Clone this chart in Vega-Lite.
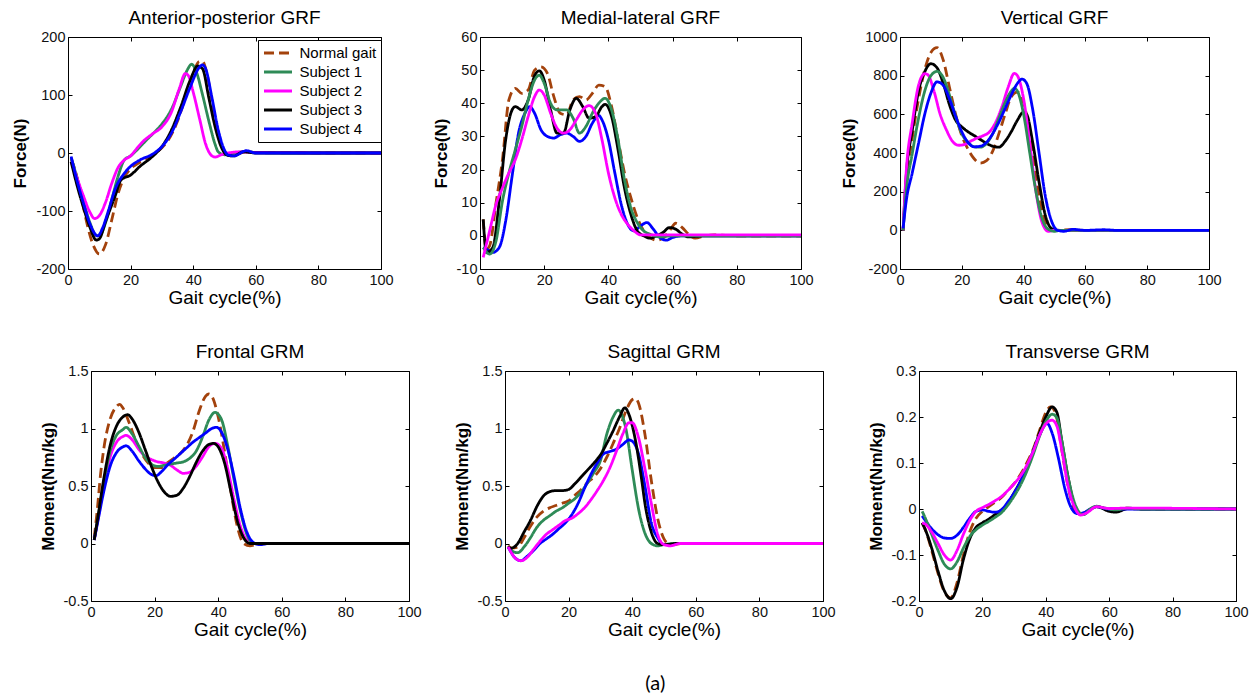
{
"$schema": "https://vega.github.io/schema/vega-lite/v6.json",
"background": "white",
"padding": {"left": 10, "top": 8, "right": 0, "bottom": 0},
"title": {"text": "(a)", "orient": "bottom", "anchor": "middle", "fontSize": 20, "font": "Lato", "fontWeight": "normal", "offset": 34, "dx": 26, "color": "black"},
"datasets": {
"ap": [
{"s":"N","x":1,"y":-10},{"s":"N","x":2,"y":-25},{"s":"N","x":3,"y":-45},{"s":"N","x":4,"y":-70},{"s":"N","x":5,"y":-95},{"s":"N","x":6,"y":-120},{"s":"N","x":8,"y":-158},{"s":"N","x":10,"y":-174},{"s":"N","x":12,"y":-158},{"s":"N","x":14,"y":-115},{"s":"N","x":16,"y":-70},{"s":"N","x":18,"y":-42},{"s":"N","x":20,"y":-27},{"s":"N","x":22,"y":-19},{"s":"N","x":25,"y":-10},{"s":"N","x":28,"y":0},{"s":"N","x":30,"y":9},{"s":"N","x":32,"y":22},{"s":"N","x":35,"y":55},{"s":"N","x":38,"y":105},{"s":"N","x":40,"y":138},{"s":"N","x":42,"y":158},{"s":"N","x":43,"y":158},{"s":"N","x":44,"y":145},{"s":"N","x":46,"y":90},{"s":"N","x":48,"y":32},{"s":"N","x":50,"y":3},{"s":"N","x":52,"y":-5},{"s":"N","x":54,"y":-2},{"s":"N","x":57,"y":2},{"s":"N","x":60,"y":1},{"s":"N","x":70,"y":1},{"s":"N","x":80,"y":0},{"s":"N","x":100,"y":0},
{"s":"S1","x":1,"y":-8},{"s":"S1","x":3,"y":-45},{"s":"S1","x":5,"y":-85},{"s":"S1","x":7,"y":-120},{"s":"S1","x":9,"y":-142},{"s":"S1","x":10,"y":-143},{"s":"S1","x":12,"y":-120},{"s":"S1","x":14,"y":-80},{"s":"S1","x":16,"y":-40},{"s":"S1","x":18,"y":-12},{"s":"S1","x":20,"y":-5},{"s":"S1","x":22,"y":5},{"s":"S1","x":25,"y":22},{"s":"S1","x":28,"y":38},{"s":"S1","x":30,"y":50},{"s":"S1","x":33,"y":75},{"s":"S1","x":36,"y":115},{"s":"S1","x":38,"y":142},{"s":"S1","x":39.5,"y":153},{"s":"S1","x":41,"y":140},{"s":"S1","x":43,"y":100},{"s":"S1","x":45,"y":55},{"s":"S1","x":47,"y":15},{"s":"S1","x":48,"y":2},{"s":"S1","x":50,"y":-3},{"s":"S1","x":53,"y":0},{"s":"S1","x":56,"y":2},{"s":"S1","x":60,"y":1},{"s":"S1","x":70,"y":0},{"s":"S1","x":100,"y":0},
{"s":"S2","x":1,"y":-15},{"s":"S2","x":3,"y":-45},{"s":"S2","x":5,"y":-75},{"s":"S2","x":7,"y":-102},{"s":"S2","x":8.5,"y":-113},{"s":"S2","x":10,"y":-108},{"s":"S2","x":12,"y":-85},{"s":"S2","x":14,"y":-52},{"s":"S2","x":16,"y":-25},{"s":"S2","x":18,"y":-12},{"s":"S2","x":20,"y":-5},{"s":"S2","x":22,"y":8},{"s":"S2","x":24,"y":20},{"s":"S2","x":27,"y":33},{"s":"S2","x":30,"y":45},{"s":"S2","x":33,"y":70},{"s":"S2","x":35.5,"y":110},{"s":"S2","x":37.5,"y":137},{"s":"S2","x":38.5,"y":133},{"s":"S2","x":40,"y":105},{"s":"S2","x":42,"y":60},{"s":"S2","x":44,"y":15},{"s":"S2","x":46,"y":-5},{"s":"S2","x":47,"y":-7},{"s":"S2","x":49,"y":-3},{"s":"S2","x":51,"y":0},{"s":"S2","x":55,"y":2},{"s":"S2","x":60,"y":1},{"s":"S2","x":100,"y":0},
{"s":"S3","x":1,"y":-15},{"s":"S3","x":3,"y":-58},{"s":"S3","x":5,"y":-95},{"s":"S3","x":7,"y":-128},{"s":"S3","x":9,"y":-150},{"s":"S3","x":10,"y":-148},{"s":"S3","x":12,"y":-118},{"s":"S3","x":15,"y":-75},{"s":"S3","x":17,"y":-46},{"s":"S3","x":20,"y":-38},{"s":"S3","x":23,"y":-23},{"s":"S3","x":27,"y":-6},{"s":"S3","x":30,"y":11},{"s":"S3","x":33,"y":39},{"s":"S3","x":36,"y":79},{"s":"S3","x":39,"y":125},{"s":"S3","x":41.5,"y":150},{"s":"S3","x":43,"y":145},{"s":"S3","x":45,"y":95},{"s":"S3","x":47,"y":45},{"s":"S3","x":49,"y":10},{"s":"S3","x":51,"y":-4},{"s":"S3","x":53,"y":-5},{"s":"S3","x":56,"y":2},{"s":"S3","x":60,"y":0},{"s":"S3","x":100,"y":0},
{"s":"S4","x":1,"y":-6},{"s":"S4","x":3,"y":-50},{"s":"S4","x":5,"y":-88},{"s":"S4","x":7,"y":-122},{"s":"S4","x":9.5,"y":-143},{"s":"S4","x":11,"y":-130},{"s":"S4","x":13,"y":-98},{"s":"S4","x":15,"y":-63},{"s":"S4","x":18,"y":-35},{"s":"S4","x":20,"y":-23},{"s":"S4","x":23,"y":-12},{"s":"S4","x":27,"y":-2},{"s":"S4","x":30,"y":11},{"s":"S4","x":33,"y":34},{"s":"S4","x":36,"y":71},{"s":"S4","x":39,"y":113},{"s":"S4","x":42,"y":148},{"s":"S4","x":43,"y":152},{"s":"S4","x":44,"y":145},{"s":"S4","x":46,"y":95},{"s":"S4","x":48,"y":40},{"s":"S4","x":50,"y":5},{"s":"S4","x":51,"y":-3},{"s":"S4","x":53,"y":-5},{"s":"S4","x":57,"y":4},{"s":"S4","x":60,"y":0},{"s":"S4","x":100,"y":0}
],
"ml": [
{"s":"N","x":1,"y":5},{"s":"N","x":2,"y":-4},{"s":"N","x":3,"y":-3},{"s":"N","x":5,"y":10},{"s":"N","x":7,"y":23},{"s":"N","x":9,"y":41},{"s":"N","x":11,"y":44.5},{"s":"N","x":13,"y":43},{"s":"N","x":15,"y":44},{"s":"N","x":17,"y":50},{"s":"N","x":19,"y":51},{"s":"N","x":21,"y":49},{"s":"N","x":23,"y":42},{"s":"N","x":25,"y":37},{"s":"N","x":27,"y":36.5},{"s":"N","x":29,"y":41},{"s":"N","x":31,"y":42},{"s":"N","x":33,"y":41},{"s":"N","x":35,"y":43},{"s":"N","x":37,"y":45.5},{"s":"N","x":39,"y":45},{"s":"N","x":41,"y":39},{"s":"N","x":43,"y":29},{"s":"N","x":45,"y":19},{"s":"N","x":47,"y":11.5},{"s":"N","x":49,"y":5.5},{"s":"N","x":51,"y":1.5},{"s":"N","x":53,"y":-0.5},{"s":"N","x":55,"y":-1.3},{"s":"N","x":57,"y":-0.7},{"s":"N","x":59,"y":1.5},{"s":"N","x":61,"y":3.8},{"s":"N","x":63,"y":2.5},{"s":"N","x":65,"y":0.5},{"s":"N","x":67,"y":-0.7},{"s":"N","x":70,"y":0},{"s":"N","x":73,"y":0.3},{"s":"N","x":80,"y":0},{"s":"N","x":100,"y":0},
{"s":"S4","x":1,"y":-3.5},{"s":"S4","x":2,"y":-4},{"s":"S4","x":4,"y":-5},{"s":"S4","x":6,"y":-3.5},{"s":"S4","x":8,"y":4.5},{"s":"S4","x":10,"y":18},{"s":"S4","x":12,"y":31},{"s":"S4","x":14,"y":37},{"s":"S4","x":15.5,"y":39},{"s":"S4","x":17,"y":37},{"s":"S4","x":19,"y":32},{"s":"S4","x":21,"y":30},{"s":"S4","x":23,"y":29.5},{"s":"S4","x":25,"y":30.5},{"s":"S4","x":27,"y":31},{"s":"S4","x":29,"y":30},{"s":"S4","x":31,"y":28.5},{"s":"S4","x":33,"y":30},{"s":"S4","x":35,"y":34},{"s":"S4","x":37,"y":36.3},{"s":"S4","x":38,"y":35},{"s":"S4","x":40,"y":29},{"s":"S4","x":42,"y":19},{"s":"S4","x":44,"y":9.5},{"s":"S4","x":46,"y":3.5},{"s":"S4","x":48,"y":1.5},{"s":"S4","x":50,"y":3},{"s":"S4","x":52,"y":4},{"s":"S4","x":54,"y":2},{"s":"S4","x":56,"y":-0.5},{"s":"S4","x":58,"y":-1.3},{"s":"S4","x":60,"y":-0.5},{"s":"S4","x":63,"y":0},{"s":"S4","x":100,"y":0},
{"s":"S3","x":1,"y":5},{"s":"S3","x":2,"y":-5},{"s":"S3","x":4,"y":-3.5},{"s":"S3","x":6,"y":10.5},{"s":"S3","x":8,"y":29},{"s":"S3","x":10,"y":38},{"s":"S3","x":11,"y":39},{"s":"S3","x":13,"y":38},{"s":"S3","x":15,"y":41},{"s":"S3","x":17,"y":48.3},{"s":"S3","x":18.5,"y":49.8},{"s":"S3","x":20,"y":47},{"s":"S3","x":22,"y":38},{"s":"S3","x":24,"y":31},{"s":"S3","x":26,"y":31},{"s":"S3","x":28,"y":38},{"s":"S3","x":30,"y":41.5},{"s":"S3","x":32,"y":39},{"s":"S3","x":34,"y":35.5},{"s":"S3","x":36,"y":36},{"s":"S3","x":38,"y":39},{"s":"S3","x":39,"y":39.7},{"s":"S3","x":41,"y":36},{"s":"S3","x":43,"y":26},{"s":"S3","x":45,"y":14.5},{"s":"S3","x":47,"y":6.5},{"s":"S3","x":49,"y":1.5},{"s":"S3","x":51,"y":0},{"s":"S3","x":53,"y":-0.7},{"s":"S3","x":55,"y":0},{"s":"S3","x":57,"y":1},{"s":"S3","x":59,"y":2.5},{"s":"S3","x":61,"y":2},{"s":"S3","x":63,"y":0.5},{"s":"S3","x":65,"y":-0.3},{"s":"S3","x":70,"y":0},{"s":"S3","x":100,"y":0},
{"s":"S1","x":1,"y":-3.5},{"s":"S1","x":3,"y":-5.5},{"s":"S1","x":5,"y":-1.5},{"s":"S1","x":7,"y":10.5},{"s":"S1","x":9,"y":19},{"s":"S1","x":11,"y":26},{"s":"S1","x":13,"y":33},{"s":"S1","x":15,"y":41},{"s":"S1","x":17,"y":47},{"s":"S1","x":18.5,"y":48.5},{"s":"S1","x":20,"y":46},{"s":"S1","x":22,"y":40},{"s":"S1","x":24,"y":38},{"s":"S1","x":27,"y":38},{"s":"S1","x":29,"y":35.5},{"s":"S1","x":31,"y":31},{"s":"S1","x":33,"y":33},{"s":"S1","x":35,"y":37},{"s":"S1","x":37,"y":40},{"s":"S1","x":39,"y":41.5},{"s":"S1","x":41,"y":38},{"s":"S1","x":43,"y":29},{"s":"S1","x":45,"y":17},{"s":"S1","x":47,"y":8.5},{"s":"S1","x":49,"y":4},{"s":"S1","x":51,"y":1.5},{"s":"S1","x":53,"y":0.5},{"s":"S1","x":56,"y":-0.3},{"s":"S1","x":60,"y":0},{"s":"S1","x":100,"y":0},
{"s":"S2","x":1,"y":-6.5},{"s":"S2","x":3,"y":1.5},{"s":"S2","x":5,"y":9.5},{"s":"S2","x":7,"y":14.5},{"s":"S2","x":9,"y":19},{"s":"S2","x":11,"y":23},{"s":"S2","x":13,"y":29},{"s":"S2","x":15,"y":36},{"s":"S2","x":17,"y":42},{"s":"S2","x":18.5,"y":44},{"s":"S2","x":20,"y":42.5},{"s":"S2","x":22,"y":37},{"s":"S2","x":24,"y":32.5},{"s":"S2","x":26,"y":31},{"s":"S2","x":28,"y":32},{"s":"S2","x":30,"y":35},{"s":"S2","x":32,"y":38},{"s":"S2","x":34,"y":39.3},{"s":"S2","x":36,"y":37},{"s":"S2","x":38,"y":29},{"s":"S2","x":40,"y":19},{"s":"S2","x":42,"y":11.5},{"s":"S2","x":44,"y":6.5},{"s":"S2","x":46,"y":3.5},{"s":"S2","x":48,"y":1.5},{"s":"S2","x":50,"y":0.3},{"s":"S2","x":52,"y":0.3},{"s":"S2","x":100,"y":0.3}
],
"vg": [
{"s":"N","x":1,"y":0},{"s":"N","x":2,"y":230},{"s":"N","x":4,"y":480},{"s":"N","x":6,"y":680},{"s":"N","x":8,"y":830},{"s":"N","x":10,"y":920},{"s":"N","x":12,"y":945},{"s":"N","x":14,"y":880},{"s":"N","x":16,"y":740},{"s":"N","x":18,"y":600},{"s":"N","x":20,"y":490},{"s":"N","x":22,"y":420},{"s":"N","x":24,"y":370},{"s":"N","x":26,"y":348},{"s":"N","x":28,"y":360},{"s":"N","x":30,"y":410},{"s":"N","x":32,"y":500},{"s":"N","x":34,"y":600},{"s":"N","x":36,"y":690},{"s":"N","x":38,"y":715},{"s":"N","x":39,"y":700},{"s":"N","x":40,"y":660},{"s":"N","x":42,"y":500},{"s":"N","x":44,"y":270},{"s":"N","x":46,"y":100},{"s":"N","x":48,"y":20},{"s":"N","x":50,"y":0},{"s":"N","x":55,"y":3},{"s":"N","x":60,"y":0},{"s":"N","x":100,"y":0},
{"s":"S3","x":1,"y":0},{"s":"S3","x":2,"y":280},{"s":"S3","x":4,"y":520},{"s":"S3","x":6,"y":720},{"s":"S3","x":8,"y":820},{"s":"S3","x":10,"y":862},{"s":"S3","x":12,"y":840},{"s":"S3","x":14,"y":760},{"s":"S3","x":16,"y":650},{"s":"S3","x":18,"y":570},{"s":"S3","x":20,"y":535},{"s":"S3","x":22,"y":510},{"s":"S3","x":24,"y":490},{"s":"S3","x":26,"y":470},{"s":"S3","x":28,"y":450},{"s":"S3","x":30,"y":435},{"s":"S3","x":32,"y":430},{"s":"S3","x":34,"y":460},{"s":"S3","x":36,"y":510},{"s":"S3","x":38,"y":570},{"s":"S3","x":40,"y":612},{"s":"S3","x":41,"y":600},{"s":"S3","x":43,"y":450},{"s":"S3","x":45,"y":250},{"s":"S3","x":47,"y":80},{"s":"S3","x":49,"y":10},{"s":"S3","x":51,"y":0},{"s":"S3","x":100,"y":0},
{"s":"S2","x":1,"y":0},{"s":"S2","x":2,"y":300},{"s":"S2","x":4,"y":560},{"s":"S2","x":6,"y":750},{"s":"S2","x":8,"y":810},{"s":"S2","x":9,"y":805},{"s":"S2","x":11,"y":720},{"s":"S2","x":13,"y":600},{"s":"S2","x":15,"y":520},{"s":"S2","x":17,"y":460},{"s":"S2","x":19,"y":440},{"s":"S2","x":21,"y":445},{"s":"S2","x":23,"y":462},{"s":"S2","x":25,"y":478},{"s":"S2","x":27,"y":490},{"s":"S2","x":29,"y":510},{"s":"S2","x":31,"y":560},{"s":"S2","x":33,"y":640},{"s":"S2","x":35,"y":740},{"s":"S2","x":37,"y":812},{"s":"S2","x":38,"y":800},{"s":"S2","x":40,"y":680},{"s":"S2","x":42,"y":450},{"s":"S2","x":44,"y":200},{"s":"S2","x":46,"y":40},{"s":"S2","x":48,"y":-5},{"s":"S2","x":50,"y":0},{"s":"S2","x":100,"y":0},
{"s":"S1","x":1,"y":0},{"s":"S1","x":2,"y":200},{"s":"S1","x":4,"y":400},{"s":"S1","x":6,"y":580},{"s":"S1","x":8,"y":720},{"s":"S1","x":10,"y":800},{"s":"S1","x":12,"y":822},{"s":"S1","x":14,"y":790},{"s":"S1","x":16,"y":700},{"s":"S1","x":18,"y":590},{"s":"S1","x":20,"y":500},{"s":"S1","x":22,"y":455},{"s":"S1","x":24,"y":432},{"s":"S1","x":26,"y":430},{"s":"S1","x":28,"y":450},{"s":"S1","x":30,"y":500},{"s":"S1","x":32,"y":580},{"s":"S1","x":34,"y":660},{"s":"S1","x":36,"y":720},{"s":"S1","x":37,"y":735},{"s":"S1","x":38,"y":720},{"s":"S1","x":40,"y":600},{"s":"S1","x":42,"y":400},{"s":"S1","x":44,"y":200},{"s":"S1","x":46,"y":60},{"s":"S1","x":48,"y":5},{"s":"S1","x":50,"y":-5},{"s":"S1","x":52,"y":0},{"s":"S1","x":100,"y":0},
{"s":"S4","x":1,"y":10},{"s":"S4","x":2,"y":150},{"s":"S4","x":4,"y":300},{"s":"S4","x":6,"y":450},{"s":"S4","x":8,"y":600},{"s":"S4","x":10,"y":710},{"s":"S4","x":12,"y":768},{"s":"S4","x":14,"y":750},{"s":"S4","x":16,"y":680},{"s":"S4","x":18,"y":590},{"s":"S4","x":20,"y":510},{"s":"S4","x":22,"y":455},{"s":"S4","x":24,"y":432},{"s":"S4","x":26,"y":435},{"s":"S4","x":28,"y":455},{"s":"S4","x":30,"y":500},{"s":"S4","x":32,"y":560},{"s":"S4","x":34,"y":630},{"s":"S4","x":36,"y":700},{"s":"S4","x":38,"y":760},{"s":"S4","x":39.5,"y":782},{"s":"S4","x":41,"y":760},{"s":"S4","x":43,"y":620},{"s":"S4","x":45,"y":400},{"s":"S4","x":47,"y":180},{"s":"S4","x":49,"y":50},{"s":"S4","x":51,"y":0},{"s":"S4","x":53,"y":-5},{"s":"S4","x":56,"y":5},{"s":"S4","x":60,"y":0},{"s":"S4","x":66,"y":3},{"s":"S4","x":70,"y":0},{"s":"S4","x":100,"y":0}
],
"fr": [
{"s":"N","x":1,"y":0.05},{"s":"N","x":2,"y":0.3},{"s":"N","x":3,"y":0.6},{"s":"N","x":4,"y":0.82},{"s":"N","x":6,"y":1.08},{"s":"N","x":8,"y":1.19},{"s":"N","x":9,"y":1.21},{"s":"N","x":10,"y":1.18},{"s":"N","x":12,"y":1.05},{"s":"N","x":14,"y":0.9},{"s":"N","x":16,"y":0.78},{"s":"N","x":18,"y":0.7},{"s":"N","x":20,"y":0.66},{"s":"N","x":22,"y":0.66},{"s":"N","x":24,"y":0.7},{"s":"N","x":26,"y":0.74},{"s":"N","x":28,"y":0.78},{"s":"N","x":30,"y":0.85},{"s":"N","x":32,"y":0.97},{"s":"N","x":34,"y":1.15},{"s":"N","x":36,"y":1.28},{"s":"N","x":37,"y":1.3},{"s":"N","x":38,"y":1.28},{"s":"N","x":40,"y":1.1},{"s":"N","x":42,"y":0.8},{"s":"N","x":44,"y":0.45},{"s":"N","x":46,"y":0.15},{"s":"N","x":48,"y":0},{"s":"N","x":50,"y":-0.02},{"s":"N","x":52,"y":-0.01},{"s":"N","x":55,"y":0},{"s":"N","x":100,"y":0},
{"s":"S2","x":1,"y":0.03},{"s":"S2","x":2,"y":0.18},{"s":"S2","x":4,"y":0.5},{"s":"S2","x":6,"y":0.75},{"s":"S2","x":8,"y":0.88},{"s":"S2","x":10,"y":0.93},{"s":"S2","x":11,"y":0.94},{"s":"S2","x":13,"y":0.9},{"s":"S2","x":15,"y":0.82},{"s":"S2","x":17,"y":0.76},{"s":"S2","x":19,"y":0.73},{"s":"S2","x":21,"y":0.71},{"s":"S2","x":23,"y":0.7},{"s":"S2","x":25,"y":0.68},{"s":"S2","x":27,"y":0.64},{"s":"S2","x":29,"y":0.61},{"s":"S2","x":31,"y":0.62},{"s":"S2","x":33,"y":0.67},{"s":"S2","x":35,"y":0.75},{"s":"S2","x":37,"y":0.84},{"s":"S2","x":39,"y":0.87},{"s":"S2","x":41,"y":0.83},{"s":"S2","x":43,"y":0.65},{"s":"S2","x":45,"y":0.38},{"s":"S2","x":47,"y":0.15},{"s":"S2","x":49,"y":0.03},{"s":"S2","x":51,"y":0},{"s":"S2","x":100,"y":0},
{"s":"S1","x":1,"y":0.03},{"s":"S1","x":2,"y":0.19},{"s":"S1","x":4,"y":0.53},{"s":"S1","x":6,"y":0.8},{"s":"S1","x":8,"y":0.94},{"s":"S1","x":10,"y":0.99},{"s":"S1","x":11,"y":1.01},{"s":"S1","x":13,"y":0.95},{"s":"S1","x":15,"y":0.85},{"s":"S1","x":17,"y":0.75},{"s":"S1","x":19,"y":0.69},{"s":"S1","x":21,"y":0.67},{"s":"S1","x":23,"y":0.68},{"s":"S1","x":25,"y":0.69},{"s":"S1","x":27,"y":0.7},{"s":"S1","x":29,"y":0.71},{"s":"S1","x":31,"y":0.74},{"s":"S1","x":33,"y":0.8},{"s":"S1","x":35,"y":0.92},{"s":"S1","x":37,"y":1.07},{"s":"S1","x":39,"y":1.14},{"s":"S1","x":41,"y":1.08},{"s":"S1","x":43,"y":0.85},{"s":"S1","x":45,"y":0.55},{"s":"S1","x":47,"y":0.28},{"s":"S1","x":49,"y":0.08},{"s":"S1","x":51,"y":0},{"s":"S1","x":100,"y":0},
{"s":"S4","x":1,"y":0.03},{"s":"S4","x":2,"y":0.17},{"s":"S4","x":4,"y":0.45},{"s":"S4","x":6,"y":0.67},{"s":"S4","x":8,"y":0.79},{"s":"S4","x":10,"y":0.84},{"s":"S4","x":11,"y":0.85},{"s":"S4","x":13,"y":0.8},{"s":"S4","x":15,"y":0.72},{"s":"S4","x":17,"y":0.65},{"s":"S4","x":19,"y":0.6},{"s":"S4","x":20.5,"y":0.59},{"s":"S4","x":22,"y":0.62},{"s":"S4","x":24,"y":0.68},{"s":"S4","x":26,"y":0.73},{"s":"S4","x":28,"y":0.78},{"s":"S4","x":30,"y":0.83},{"s":"S4","x":32,"y":0.88},{"s":"S4","x":34,"y":0.92},{"s":"S4","x":36,"y":0.96},{"s":"S4","x":38,"y":1.0},{"s":"S4","x":39.5,"y":1.01},{"s":"S4","x":41,"y":0.97},{"s":"S4","x":43,"y":0.82},{"s":"S4","x":45,"y":0.58},{"s":"S4","x":47,"y":0.3},{"s":"S4","x":49,"y":0.1},{"s":"S4","x":51,"y":0.01},{"s":"S4","x":53,"y":-0.01},{"s":"S4","x":56,"y":0},{"s":"S4","x":100,"y":0},
{"s":"S3","x":1,"y":0.03},{"s":"S3","x":2,"y":0.2},{"s":"S3","x":4,"y":0.56},{"s":"S3","x":6,"y":0.85},{"s":"S3","x":8,"y":1.02},{"s":"S3","x":10,"y":1.1},{"s":"S3","x":11.5,"y":1.12},{"s":"S3","x":13,"y":1.08},{"s":"S3","x":15,"y":0.97},{"s":"S3","x":17,"y":0.82},{"s":"S3","x":19,"y":0.67},{"s":"S3","x":21,"y":0.54},{"s":"S3","x":23,"y":0.45},{"s":"S3","x":25,"y":0.41},{"s":"S3","x":27,"y":0.42},{"s":"S3","x":29,"y":0.48},{"s":"S3","x":31,"y":0.58},{"s":"S3","x":33,"y":0.7},{"s":"S3","x":35,"y":0.8},{"s":"S3","x":37,"y":0.86},{"s":"S3","x":38.5,"y":0.87},{"s":"S3","x":40,"y":0.84},{"s":"S3","x":42,"y":0.7},{"s":"S3","x":44,"y":0.45},{"s":"S3","x":46,"y":0.2},{"s":"S3","x":48,"y":0.05},{"s":"S3","x":50,"y":0},{"s":"S3","x":100,"y":0}
],
"sg": [
{"s":"N","x":1,"y":-0.02},{"s":"N","x":2,"y":-0.04},{"s":"N","x":4,"y":-0.03},{"s":"N","x":6,"y":0.05},{"s":"N","x":8,"y":0.15},{"s":"N","x":10,"y":0.23},{"s":"N","x":12,"y":0.28},{"s":"N","x":14,"y":0.31},{"s":"N","x":16,"y":0.33},{"s":"N","x":18,"y":0.35},{"s":"N","x":20,"y":0.37},{"s":"N","x":22,"y":0.42},{"s":"N","x":24,"y":0.47},{"s":"N","x":26,"y":0.53},{"s":"N","x":28,"y":0.58},{"s":"N","x":30,"y":0.65},{"s":"N","x":32,"y":0.75},{"s":"N","x":34,"y":0.87},{"s":"N","x":36,"y":1.0},{"s":"N","x":38,"y":1.15},{"s":"N","x":40,"y":1.25},{"s":"N","x":41,"y":1.26},{"s":"N","x":42,"y":1.22},{"s":"N","x":44,"y":0.95},{"s":"N","x":46,"y":0.55},{"s":"N","x":48,"y":0.22},{"s":"N","x":50,"y":0.04},{"s":"N","x":52,"y":-0.01},{"s":"N","x":56,"y":0},{"s":"N","x":100,"y":0},
{"s":"S1","x":1,"y":-0.03},{"s":"S1","x":2,"y":-0.06},{"s":"S1","x":4,"y":-0.08},{"s":"S1","x":6,"y":-0.03},{"s":"S1","x":8,"y":0.05},{"s":"S1","x":10,"y":0.14},{"s":"S1","x":12,"y":0.2},{"s":"S1","x":14,"y":0.24},{"s":"S1","x":16,"y":0.28},{"s":"S1","x":18,"y":0.31},{"s":"S1","x":20,"y":0.35},{"s":"S1","x":22,"y":0.39},{"s":"S1","x":24,"y":0.45},{"s":"S1","x":26,"y":0.53},{"s":"S1","x":28,"y":0.62},{"s":"S1","x":30,"y":0.72},{"s":"S1","x":32,"y":0.95},{"s":"S1","x":34,"y":1.1},{"s":"S1","x":35.6,"y":1.16},{"s":"S1","x":37,"y":1.1},{"s":"S1","x":38,"y":1.0},{"s":"S1","x":40,"y":0.64},{"s":"S1","x":42,"y":0.3},{"s":"S1","x":44,"y":0.09},{"s":"S1","x":46,"y":0},{"s":"S1","x":48,"y":-0.02},{"s":"S1","x":50,"y":-0.01},{"s":"S1","x":53,"y":0},{"s":"S1","x":100,"y":0},
{"s":"S4","x":1,"y":-0.03},{"s":"S4","x":3,"y":-0.12},{"s":"S4","x":5,"y":-0.15},{"s":"S4","x":7,"y":-0.11},{"s":"S4","x":9,"y":-0.06},{"s":"S4","x":11,"y":0},{"s":"S4","x":13,"y":0.04},{"s":"S4","x":15,"y":0.08},{"s":"S4","x":17,"y":0.13},{"s":"S4","x":19,"y":0.18},{"s":"S4","x":21,"y":0.25},{"s":"S4","x":23,"y":0.35},{"s":"S4","x":25,"y":0.48},{"s":"S4","x":27,"y":0.6},{"s":"S4","x":29,"y":0.7},{"s":"S4","x":31,"y":0.78},{"s":"S4","x":33,"y":0.8},{"s":"S4","x":35,"y":0.82},{"s":"S4","x":37,"y":0.86},{"s":"S4","x":39,"y":0.9},{"s":"S4","x":40,"y":0.89},{"s":"S4","x":42,"y":0.78},{"s":"S4","x":44,"y":0.5},{"s":"S4","x":46,"y":0.18},{"s":"S4","x":48,"y":0.05},{"s":"S4","x":50,"y":-0.01},{"s":"S4","x":52,"y":-0.01},{"s":"S4","x":55,"y":0},{"s":"S4","x":100,"y":0},
{"s":"S3","x":1,"y":-0.03},{"s":"S3","x":2,"y":-0.04},{"s":"S3","x":4,"y":0},{"s":"S3","x":6,"y":0.1},{"s":"S3","x":8,"y":0.2},{"s":"S3","x":10,"y":0.32},{"s":"S3","x":12,"y":0.41},{"s":"S3","x":14,"y":0.45},{"s":"S3","x":16,"y":0.46},{"s":"S3","x":18,"y":0.46},{"s":"S3","x":20,"y":0.47},{"s":"S3","x":22,"y":0.52},{"s":"S3","x":24,"y":0.58},{"s":"S3","x":26,"y":0.64},{"s":"S3","x":28,"y":0.7},{"s":"S3","x":30,"y":0.77},{"s":"S3","x":32,"y":0.87},{"s":"S3","x":34,"y":0.98},{"s":"S3","x":36,"y":1.1},{"s":"S3","x":37.7,"y":1.18},{"s":"S3","x":39,"y":1.12},{"s":"S3","x":41,"y":0.9},{"s":"S3","x":43,"y":0.55},{"s":"S3","x":44,"y":0.35},{"s":"S3","x":46,"y":0.1},{"s":"S3","x":48,"y":0},{"s":"S3","x":50,"y":-0.01},{"s":"S3","x":54,"y":0},{"s":"S3","x":100,"y":0},
{"s":"S2","x":1,"y":-0.03},{"s":"S2","x":3,"y":-0.12},{"s":"S2","x":5,"y":-0.15},{"s":"S2","x":7,"y":-0.12},{"s":"S2","x":9,"y":-0.05},{"s":"S2","x":11,"y":0.02},{"s":"S2","x":13,"y":0.08},{"s":"S2","x":15,"y":0.12},{"s":"S2","x":17,"y":0.16},{"s":"S2","x":19,"y":0.2},{"s":"S2","x":21,"y":0.22},{"s":"S2","x":23,"y":0.26},{"s":"S2","x":25,"y":0.31},{"s":"S2","x":27,"y":0.38},{"s":"S2","x":29,"y":0.46},{"s":"S2","x":31,"y":0.55},{"s":"S2","x":33,"y":0.66},{"s":"S2","x":35,"y":0.8},{"s":"S2","x":37,"y":0.95},{"s":"S2","x":39,"y":1.05},{"s":"S2","x":40,"y":1.05},{"s":"S2","x":42,"y":0.92},{"s":"S2","x":44,"y":0.65},{"s":"S2","x":46,"y":0.35},{"s":"S2","x":48,"y":0.08},{"s":"S2","x":50,"y":-0.01},{"s":"S2","x":52,"y":-0.02},{"s":"S2","x":55,"y":0},{"s":"S2","x":100,"y":0}
],
"tr": [
{"s":"N","x":1,"y":-0.03},{"s":"N","x":2,"y":-0.045},{"s":"N","x":4,"y":-0.09},{"s":"N","x":6,"y":-0.14},{"s":"N","x":8,"y":-0.18},{"s":"N","x":10,"y":-0.193},{"s":"N","x":12,"y":-0.16},{"s":"N","x":14,"y":-0.1},{"s":"N","x":16,"y":-0.05},{"s":"N","x":18,"y":-0.02},{"s":"N","x":20,"y":-0.005},{"s":"N","x":22,"y":0.005},{"s":"N","x":24,"y":0.015},{"s":"N","x":26,"y":0.025},{"s":"N","x":28,"y":0.04},{"s":"N","x":30,"y":0.055},{"s":"N","x":32,"y":0.075},{"s":"N","x":34,"y":0.1},{"s":"N","x":36,"y":0.13},{"s":"N","x":38,"y":0.17},{"s":"N","x":40,"y":0.21},{"s":"N","x":41.5,"y":0.222},{"s":"N","x":43,"y":0.21},{"s":"N","x":45,"y":0.13},{"s":"N","x":47,"y":0.05},{"s":"N","x":49,"y":0},{"s":"N","x":51,"y":-0.012},{"s":"N","x":53,"y":-0.005},{"s":"N","x":56,"y":0.005},{"s":"N","x":60,"y":0},{"s":"N","x":66,"y":0.002},{"s":"N","x":70,"y":0},{"s":"N","x":100,"y":0},
{"s":"S3","x":1,"y":-0.03},{"s":"S3","x":2,"y":-0.045},{"s":"S3","x":4,"y":-0.085},{"s":"S3","x":6,"y":-0.135},{"s":"S3","x":8,"y":-0.178},{"s":"S3","x":10,"y":-0.195},{"s":"S3","x":12,"y":-0.17},{"s":"S3","x":14,"y":-0.11},{"s":"S3","x":16,"y":-0.065},{"s":"S3","x":18,"y":-0.04},{"s":"S3","x":20,"y":-0.03},{"s":"S3","x":22,"y":-0.022},{"s":"S3","x":24,"y":-0.012},{"s":"S3","x":26,"y":-0.002},{"s":"S3","x":28,"y":0.012},{"s":"S3","x":30,"y":0.035},{"s":"S3","x":32,"y":0.06},{"s":"S3","x":34,"y":0.09},{"s":"S3","x":36,"y":0.125},{"s":"S3","x":38,"y":0.165},{"s":"S3","x":40,"y":0.2},{"s":"S3","x":42,"y":0.222},{"s":"S3","x":43.5,"y":0.21},{"s":"S3","x":45,"y":0.15},{"s":"S3","x":47,"y":0.07},{"s":"S3","x":49,"y":0.01},{"s":"S3","x":51,"y":-0.012},{"s":"S3","x":53,"y":-0.006},{"s":"S3","x":56,"y":0.005},{"s":"S3","x":60,"y":-0.005},{"s":"S3","x":62,"y":-0.007},{"s":"S3","x":66,"y":0.001},{"s":"S3","x":70,"y":0},{"s":"S3","x":100,"y":0},
{"s":"S4","x":1,"y":-0.015},{"s":"S4","x":2,"y":-0.025},{"s":"S4","x":4,"y":-0.043},{"s":"S4","x":6,"y":-0.056},{"s":"S4","x":8,"y":-0.063},{"s":"S4","x":10,"y":-0.064},{"s":"S4","x":12,"y":-0.057},{"s":"S4","x":14,"y":-0.04},{"s":"S4","x":16,"y":-0.02},{"s":"S4","x":18,"y":-0.005},{"s":"S4","x":20,"y":-0.002},{"s":"S4","x":22,"y":-0.005},{"s":"S4","x":24,"y":-0.007},{"s":"S4","x":26,"y":-0.002},{"s":"S4","x":28,"y":0.015},{"s":"S4","x":30,"y":0.035},{"s":"S4","x":32,"y":0.06},{"s":"S4","x":34,"y":0.09},{"s":"S4","x":36,"y":0.125},{"s":"S4","x":38,"y":0.16},{"s":"S4","x":40.4,"y":0.186},{"s":"S4","x":42,"y":0.165},{"s":"S4","x":44,"y":0.11},{"s":"S4","x":46,"y":0.045},{"s":"S4","x":48,"y":0.003},{"s":"S4","x":50,"y":-0.01},{"s":"S4","x":52,"y":-0.008},{"s":"S4","x":54,"y":0},{"s":"S4","x":56,"y":0.005},{"s":"S4","x":60,"y":0},{"s":"S4","x":100,"y":0},
{"s":"S1","x":1,"y":-0.005},{"s":"S1","x":2,"y":-0.02},{"s":"S1","x":4,"y":-0.055},{"s":"S1","x":6,"y":-0.09},{"s":"S1","x":8,"y":-0.12},{"s":"S1","x":10,"y":-0.13},{"s":"S1","x":12,"y":-0.115},{"s":"S1","x":14,"y":-0.085},{"s":"S1","x":16,"y":-0.06},{"s":"S1","x":18,"y":-0.045},{"s":"S1","x":20,"y":-0.035},{"s":"S1","x":22,"y":-0.027},{"s":"S1","x":24,"y":-0.018},{"s":"S1","x":26,"y":-0.008},{"s":"S1","x":28,"y":0.008},{"s":"S1","x":30,"y":0.028},{"s":"S1","x":32,"y":0.052},{"s":"S1","x":34,"y":0.082},{"s":"S1","x":36,"y":0.118},{"s":"S1","x":38,"y":0.158},{"s":"S1","x":40,"y":0.19},{"s":"S1","x":42,"y":0.206},{"s":"S1","x":43.5,"y":0.198},{"s":"S1","x":45,"y":0.15},{"s":"S1","x":47,"y":0.07},{"s":"S1","x":49,"y":0.015},{"s":"S1","x":51,"y":-0.01},{"s":"S1","x":52,"y":-0.012},{"s":"S1","x":54,"y":0},{"s":"S1","x":56,"y":0.006},{"s":"S1","x":58,"y":0.003},{"s":"S1","x":62,"y":-0.002},{"s":"S1","x":66,"y":0.002},{"s":"S1","x":70,"y":0},{"s":"S1","x":100,"y":0},
{"s":"S2","x":1,"y":-0.03},{"s":"S2","x":2,"y":-0.033},{"s":"S2","x":4,"y":-0.05},{"s":"S2","x":6,"y":-0.075},{"s":"S2","x":8,"y":-0.1},{"s":"S2","x":10,"y":-0.111},{"s":"S2","x":12,"y":-0.09},{"s":"S2","x":14,"y":-0.055},{"s":"S2","x":16,"y":-0.025},{"s":"S2","x":18,"y":-0.005},{"s":"S2","x":20,"y":0.003},{"s":"S2","x":22,"y":0.01},{"s":"S2","x":24,"y":0.018},{"s":"S2","x":26,"y":0.027},{"s":"S2","x":28,"y":0.04},{"s":"S2","x":30,"y":0.055},{"s":"S2","x":32,"y":0.072},{"s":"S2","x":34,"y":0.095},{"s":"S2","x":36,"y":0.125},{"s":"S2","x":38,"y":0.16},{"s":"S2","x":40,"y":0.185},{"s":"S2","x":42,"y":0.193},{"s":"S2","x":43.5,"y":0.18},{"s":"S2","x":45,"y":0.13},{"s":"S2","x":47,"y":0.05},{"s":"S2","x":49,"y":0.005},{"s":"S2","x":51,"y":-0.013},{"s":"S2","x":53,"y":-0.008},{"s":"S2","x":56,"y":0.005},{"s":"S2","x":60,"y":0.001},{"s":"S2","x":66,"y":0.002},{"s":"S2","x":100,"y":0}
]
},
"vconcat": [
{
"hconcat": [
{"width": 1, "height": 10, "data": {"values": []}, "mark": "point", "view": {"stroke": null}},
{
"hconcat": [
{"width": 313, "height": 232, "title": "Anterior-posterior GRF",
 "layer": [
  {"data": {"name": "ap"}, "mark": {"type": "line", "interpolate": "monotone", "strokeWidth": 2.8},
   "encoding": {
    "x": {"field": "x", "type": "quantitative", "scale": {"domain": [0, 100], "nice": false}, "axis": {"values": [0, 20, 40, 60, 80, 100], "title": "Gait cycle(%)"}},
    "y": {"field": "y", "type": "quantitative", "scale": {"domain": [-200, 200], "nice": false, "zero": false}, "axis": {"values": [-200, -100, 0, 100, 200], "title": "Force(N)", "labelExpr": "toString(datum.value)"}},
    "color": {"field": "s", "type": "nominal", "scale": {"domain": ["N", "S1", "S2", "S3", "S4"], "range": ["#a3420c", "#2e8b57", "#ff00ff", "#000000", "#0000ff"]},
     "legend": {"orient": "none", "legendX": 190, "legendY": 3, "title": null, "strokeColor": "black", "fillColor": "white", "padding": 4.5, "labelFontSize": 15, "labelFont": "Liberation Sans", "labelColor": "black", "symbolType": "M-1,0H3", "symbolSize": 196, "symbolStrokeWidth": 3, "labelOffset": 20, "rowPadding": 2, "labelExpr": "datum.label == 'N' ? 'Normal gait' : 'Subject ' + substring(datum.label, 1)"}},
    "strokeDash": {"field": "s", "type": "nominal", "scale": {"domain": ["N", "S1", "S2", "S3", "S4"], "range": [[10, 5], [1, 0], [1, 0], [1, 0], [1, 0]]}}
   }},
  {"data": {"values": []}, "mark": "point",
   "encoding": {
    "x": {"field": "x", "type": "quantitative", "axis": {"orient": "top", "values": [0, 20, 40, 60, 80, 100], "labels": false, "title": null}},
    "y": {"field": "y", "type": "quantitative", "axis": {"orient": "right", "values": [-200, -100, 0, 100, 200], "labels": false, "title": null}}
   }}
 ],
 "resolve": {"axis": {"x": "independent", "y": "independent"}}
},
{"width": 321, "height": 232, "title": "Medial-lateral GRF",
 "layer": [
  {"data": {"name": "ml"}, "mark": {"type": "line", "interpolate": "monotone", "strokeWidth": 2.8},
   "encoding": {
    "x": {"field": "x", "type": "quantitative", "scale": {"domain": [0, 100], "nice": false}, "axis": {"values": [0, 20, 40, 60, 80, 100], "title": "Gait cycle(%)"}},
    "y": {"field": "y", "type": "quantitative", "scale": {"domain": [-10, 60], "nice": false, "zero": false}, "axis": {"values": [-10, 0, 10, 20, 30, 40, 50, 60], "title": "Force(N)", "labelExpr": "toString(datum.value)"}},
    "color": {"field": "s", "type": "nominal", "scale": {"domain": ["N", "S1", "S2", "S3", "S4"], "range": ["#a3420c", "#2e8b57", "#ff00ff", "#000000", "#0000ff"]}, "legend": null},
    "strokeDash": {"field": "s", "type": "nominal", "scale": {"domain": ["N", "S1", "S2", "S3", "S4"], "range": [[10, 5], [1, 0], [1, 0], [1, 0], [1, 0]]}, "legend": null}
   }},
  {"data": {"values": []}, "mark": "point",
   "encoding": {
    "x": {"field": "x", "type": "quantitative", "axis": {"orient": "top", "values": [0, 20, 40, 60, 80, 100], "labels": false, "title": null}},
    "y": {"field": "y", "type": "quantitative", "axis": {"orient": "right", "values": [-10, 0, 10, 20, 30, 40, 50, 60], "labels": false, "title": null}}
   }}
 ],
 "resolve": {"axis": {"x": "independent", "y": "independent"}}
},
{"width": 309, "height": 232, "title": "Vertical GRF",
 "layer": [
  {"data": {"name": "vg"}, "mark": {"type": "line", "interpolate": "monotone", "strokeWidth": 2.8},
   "encoding": {
    "x": {"field": "x", "type": "quantitative", "scale": {"domain": [0, 100], "nice": false}, "axis": {"values": [0, 20, 40, 60, 80, 100], "title": "Gait cycle(%)"}},
    "y": {"field": "y", "type": "quantitative", "scale": {"domain": [-200, 1000], "nice": false, "zero": false}, "axis": {"values": [-200, 0, 200, 400, 600, 800, 1000], "title": "Force(N)", "labelExpr": "toString(datum.value)"}},
    "color": {"field": "s", "type": "nominal", "scale": {"domain": ["N", "S1", "S2", "S3", "S4"], "range": ["#a3420c", "#2e8b57", "#ff00ff", "#000000", "#0000ff"]}, "legend": null},
    "strokeDash": {"field": "s", "type": "nominal", "scale": {"domain": ["N", "S1", "S2", "S3", "S4"], "range": [[10, 5], [1, 0], [1, 0], [1, 0], [1, 0]]}, "legend": null}
   }},
  {"data": {"values": []}, "mark": "point",
   "encoding": {
    "x": {"field": "x", "type": "quantitative", "axis": {"orient": "top", "values": [0, 20, 40, 60, 80, 100], "labels": false, "title": null}},
    "y": {"field": "y", "type": "quantitative", "axis": {"orient": "right", "values": [-200, 0, 200, 400, 600, 800, 1000], "labels": false, "title": null}}
   }}
 ],
 "resolve": {"axis": {"x": "independent", "y": "independent"}}
}
],
"spacing": 99, "bounds": "flush",
"resolve": {"scale": {"color": "independent", "strokeDash": "independent"}}
}
],
"spacing": 0,
"resolve": {"scale": {"color": "independent", "strokeDash": "independent"}}
},
{
"hconcat": [
{"width": 28, "height": 10, "data": {"values": []}, "mark": "point", "view": {"stroke": null}},
{
"hconcat": [
{"width": 318, "height": 230, "title": "Frontal GRM",
 "layer": [
  {"data": {"name": "fr"}, "mark": {"type": "line", "interpolate": "monotone", "strokeWidth": 2.8},
   "encoding": {
    "x": {"field": "x", "type": "quantitative", "scale": {"domain": [0, 100], "nice": false}, "axis": {"values": [0, 20, 40, 60, 80, 100], "title": "Gait cycle(%)"}},
    "y": {"field": "y", "type": "quantitative", "scale": {"domain": [-0.5, 1.5], "nice": false, "zero": false}, "axis": {"values": [-0.5, 0, 0.5, 1, 1.5], "title": "Moment(Nm/kg)", "labelExpr": "toString(datum.value)"}},
    "color": {"field": "s", "type": "nominal", "scale": {"domain": ["N", "S1", "S2", "S3", "S4"], "range": ["#a3420c", "#2e8b57", "#ff00ff", "#000000", "#0000ff"]}, "legend": null},
    "strokeDash": {"field": "s", "type": "nominal", "scale": {"domain": ["N", "S1", "S2", "S3", "S4"], "range": [[10, 5], [1, 0], [1, 0], [1, 0], [1, 0]]}, "legend": null}
   }},
  {"data": {"values": []}, "mark": "point",
   "encoding": {
    "x": {"field": "x", "type": "quantitative", "axis": {"orient": "top", "values": [0, 20, 40, 60, 80, 100], "labels": false, "title": null}},
    "y": {"field": "y", "type": "quantitative", "axis": {"orient": "right", "values": [-0.5, 0, 0.5, 1, 1.5], "labels": false, "title": null}}
   }}
 ],
 "resolve": {"axis": {"x": "independent", "y": "independent"}}
},
{"width": 318, "height": 230, "title": "Sagittal GRM",
 "layer": [
  {"data": {"name": "sg"}, "mark": {"type": "line", "interpolate": "monotone", "strokeWidth": 2.8},
   "encoding": {
    "x": {"field": "x", "type": "quantitative", "scale": {"domain": [0, 100], "nice": false}, "axis": {"values": [0, 20, 40, 60, 80, 100], "title": "Gait cycle(%)"}},
    "y": {"field": "y", "type": "quantitative", "scale": {"domain": [-0.5, 1.5], "nice": false, "zero": false}, "axis": {"values": [-0.5, 0, 0.5, 1, 1.5], "title": "Moment(Nm/kg)", "labelExpr": "toString(datum.value)"}},
    "color": {"field": "s", "type": "nominal", "scale": {"domain": ["N", "S1", "S2", "S3", "S4"], "range": ["#a3420c", "#2e8b57", "#ff00ff", "#000000", "#0000ff"]}, "legend": null},
    "strokeDash": {"field": "s", "type": "nominal", "scale": {"domain": ["N", "S1", "S2", "S3", "S4"], "range": [[10, 5], [1, 0], [1, 0], [1, 0], [1, 0]]}, "legend": null}
   }},
  {"data": {"values": []}, "mark": "point",
   "encoding": {
    "x": {"field": "x", "type": "quantitative", "axis": {"orient": "top", "values": [0, 20, 40, 60, 80, 100], "labels": false, "title": null}},
    "y": {"field": "y", "type": "quantitative", "axis": {"orient": "right", "values": [-0.5, 0, 0.5, 1, 1.5], "labels": false, "title": null}}
   }}
 ],
 "resolve": {"axis": {"x": "independent", "y": "independent"}}
},
{"width": 317, "height": 230, "title": "Transverse GRM",
 "layer": [
  {"data": {"name": "tr"}, "mark": {"type": "line", "interpolate": "monotone", "strokeWidth": 2.8},
   "encoding": {
    "x": {"field": "x", "type": "quantitative", "scale": {"domain": [0, 100], "nice": false}, "axis": {"values": [0, 20, 40, 60, 80, 100], "title": "Gait cycle(%)"}},
    "y": {"field": "y", "type": "quantitative", "scale": {"domain": [-0.2, 0.3], "nice": false, "zero": false}, "axis": {"values": [-0.2, -0.1, 0, 0.1, 0.2, 0.3], "title": "Moment(Nm/kg)", "labelExpr": "toString(datum.value)"}},
    "color": {"field": "s", "type": "nominal", "scale": {"domain": ["N", "S1", "S2", "S3", "S4"], "range": ["#a3420c", "#2e8b57", "#ff00ff", "#000000", "#0000ff"]}, "legend": null},
    "strokeDash": {"field": "s", "type": "nominal", "scale": {"domain": ["N", "S1", "S2", "S3", "S4"], "range": [[10, 5], [1, 0], [1, 0], [1, 0], [1, 0]]}, "legend": null}
   }},
  {"data": {"values": []}, "mark": "point",
   "encoding": {
    "x": {"field": "x", "type": "quantitative", "axis": {"orient": "top", "values": [0, 20, 40, 60, 80, 100], "labels": false, "title": null}},
    "y": {"field": "y", "type": "quantitative", "axis": {"orient": "right", "values": [-0.2, -0.1, 0, 0.1, 0.2, 0.3], "labels": false, "title": null}}
   }}
 ],
 "resolve": {"axis": {"x": "independent", "y": "independent"}}
}
],
"spacing": 96, "bounds": "flush",
"resolve": {"scale": {"color": "independent", "strokeDash": "independent"}}
}
],
"spacing": 0,
"resolve": {"scale": {"color": "independent", "strokeDash": "independent"}}
}
],
"spacing": 34,
"resolve": {"scale": {"color": "independent", "strokeDash": "independent"}},
"config": {
 "font": "Liberation Sans",
 "view": {"stroke": "black", "strokeWidth": 1},
 "axis": {"domain": false, "grid": false, "ticks": true, "tickSize": -4, "tickColor": "black", "labelPadding": 7, "labelFontSize": 14.5, "labelColor": "#111111", "labelFont": "Liberation Sans", "titleFont": "Liberation Sans", "titleColor": "black", "labelFlush": false, "labelOverlap": false},
 "axisX": {"titleFontSize": 19, "titleFontWeight": "normal", "titlePadding": 2, "labelPadding": 8},
 "axisY": {"titleFontSize": 17, "titleFontWeight": "bold", "titlePadding": 6},
 "title": {"fontSize": 19, "fontWeight": "normal", "font": "Liberation Sans", "offset": 1, "color": "black"}
}
}
